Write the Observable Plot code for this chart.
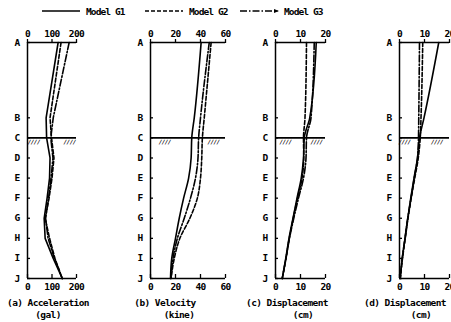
<!DOCTYPE html>
<html>
<head>
<meta charset="utf-8">
<script src="https://cdn.jsdelivr.net/npm/d3@7"></script>
<script src="https://cdn.jsdelivr.net/npm/@observablehq/plot@0.6"></script>
<style>
  html, body { margin: 0; padding: 0; background: #fff; }
  #root { position: relative; width: 451px; height: 322px; overflow: hidden; background: #fff;
          font-family: "DejaVu Sans Mono", monospace; color: #000; }
  .abs { position: absolute; }
  .cap { position: absolute; width: 140px; text-align: center; font-size: 9.5px; font-weight: bold; letter-spacing: -0.6px; line-height: 11px; white-space: nowrap; }
</style>
</head>
<body>
<div id="root"></div>
<script>
// ---------- data ----------
const levels = ["A", "B", "C", "D", "E", "F", "G", "H", "I", "J"];
const depths = [0, 3.75, 4.75, 5.75, 6.75, 7.75, 8.75, 9.75, 10.75, 11.75];
const groundLevel = "C";
const models = ["Model G1", "Model G2", "Model G3"];
const modelDash = [null, "4,2", "7,2,1.5,2"];

// (a) Acceleration (gal)
const accG1 = [125, 76, 78, 92, 90, 80, 68, 72, 105, 142];
const accG2 = [137, 92, 98, 108, 100, 88, 72, 90, 112, 142];
const accG3 = [170, 105, 95, 104, 96, 86, 74, 84, 110, 142];
// (b) Velocity (kine)
const velG1 = [40.5, 35, 33, 32.5, 30.5, 26.5, 23, 20, 17, 16];
const velG2 = [48.5, 43, 41.5, 41, 40, 37.5, 31.5, 23.5, 19, 16.5];
const velG3 = [47, 40, 38.5, 38, 36, 32, 27, 21.5, 18, 16.3];
// (c) Displacement (cm)
const dispcG1 = [16.3, 13.7, 11.5, 11.2, 10.3, 8.6, 7.0, 5.4, 4.1, 2.7];
const dispcG2 = [12.4, 11.8, 11.2, 11.3, 10.6, 8.8, 7.1, 5.5, 4.2, 2.7];
const dispcG3 = [15.5, 14.2, 12.4, 12.2, 11.2, 9.2, 7.3, 5.6, 4.2, 2.7];
// (d) Displacement (cm)
const dispdG1 = [15.7, 9.8, 8.0, 7.2, 5.8, 4.5, 3.3, 2.2, 1.1, 0.3];
const dispdG2 = [9.3, 8.6, 8.3, 7.5, 6.1, 4.7, 3.4, 2.3, 1.2, 0.3];
const dispdG3 = [8.0, 7.7, 7.6, 7.2, 5.9, 4.6, 3.3, 2.2, 1.1, 0.3];

const panelTitles = ["(a) Acceleration", "(b) Velocity", "(c) Displacement", "(d) Displacement"];
const panelUnits = ["(gal)", "(kine)", "(cm)", "(cm)"];
const xTicks = [[0, 100, 200], [0, 20, 40, 60], [0, 10, 20], [0, 10, 20]];
const xMax = [200, 60, 20, 20];
const panelSeries = [[accG1, accG2, accG3], [velG1, velG2, velG3], [dispcG1, dispcG2, dispcG3], [dispdG1, dispdG2, dispdG3]];
const hatchAt = [[0.13, 0.86], [0.19, 0.84], [0.2, 0.82], [0.1, 0.75]];

// ---------- layout ----------
const layout = [
  {left: 0,   marginLeft: 27, inner: 49, curve: "linear",  cap1: 48,  cap2: 48},
  {left: 120, marginLeft: 30, inner: 75, curve: "monotone-y", cap1: 165, cap2: 179},
  {left: 245, marginLeft: 30, inner: 50, curve: "monotone-y", cap1: 287, cap2: 303},
  {left: 369, marginLeft: 30, inner: 50, curve: "monotone-y", cap1: 405, cap2: 421}
];

const root = document.getElementById("root");
const font = {fontFamily: "DejaVu Sans Mono, monospace", fontSize: "9.5px", fontWeight: "bold", letterSpacing: "-0.6px", background: "transparent", color: "#000", overflow: "visible"};
const levelOf = new Map(depths.map((d, i) => [d, levels[i]]));
const groundDepth = depths[levels.indexOf(groundLevel)];

panelSeries.forEach((series, p) => {
  const L = layout[p];
  const marginRight = 8;
  const lineMarks = series.map((vals, si) =>
    Plot.line(vals.map((v, i) => ({value: v, depth: depths[i], model: models[si]})), {
      x: "value", y: "depth", curve: L.curve, stroke: "#000", strokeWidth: 1.6,
      strokeDasharray: modelDash[si] || undefined
    })
  );
  const chart = Plot.plot({
    width: L.marginLeft + L.inner + marginRight,
    height: 322,
    marginLeft: L.marginLeft, marginRight, marginTop: 42, marginBottom: 44,
    style: font,
    x: {domain: [0, xMax[p]], label: null},
    y: {domain: [depths[0], depths[depths.length - 1]], reverse: true, label: null},
    marks: [
      Plot.axisX({anchor: "top", ticks: xTicks[p], tickSize: 4, tickPadding: 2, label: null, tickFormat: d => d, strokeWidth: 1.3}),
      Plot.axisX({anchor: "bottom", ticks: xTicks[p], tickSize: -4, tickPadding: 9, label: null, tickFormat: d => d, strokeWidth: 1.3}),
      Plot.axisY({ticks: depths, tickSize: -3, tickPadding: 11, label: null, tickFormat: d => levelOf.get(d), strokeWidth: 1.3}),
      Plot.ruleX([0], {stroke: "#000", strokeWidth: 1.5}),
      Plot.ruleY([depths[0], depths[depths.length - 1]], {stroke: "#000", strokeWidth: 1.4}),
      Plot.ruleY([groundDepth], {stroke: "#000", strokeWidth: 1.6}),
      Plot.text(hatchAt[p].map(f => ({x: f * xMax[p]})), {
        x: "x", y: () => groundDepth, text: () => "////", dy: 4.5,
        fontSize: 6, fontWeight: "bold", letterSpacing: "-1.8px", fontStyle: "italic", fill: "#000"
      }),
      ...lineMarks
    ]
  });
  chart.classList.add("abs");
  chart.style.left = L.left + "px";
  chart.style.top = "0px";
  root.appendChild(chart);

  const c1 = document.createElement("div");
  c1.className = "cap"; c1.textContent = panelTitles[p];
  c1.style.left = (L.cap1 - 70) + "px"; c1.style.top = "297px";
  root.appendChild(c1);
  const c2 = document.createElement("div");
  c2.className = "cap"; c2.textContent = panelUnits[p];
  c2.style.left = (L.cap2 - 70) + "px"; c2.style.top = "309px";
  root.appendChild(c2);
});

// ---------- legend ----------
const legendX = [42, 145, 240];
const ns = "http://www.w3.org/2000/svg";
const leg = document.createElementNS(ns, "svg");
leg.setAttribute("width", 451); leg.setAttribute("height", 22);
leg.setAttribute("class", "abs");
leg.style.left = "0px"; leg.style.top = "0px";
models.forEach((m, i) => {
  const x0 = legendX[i];
  const ln = document.createElementNS(ns, "line");
  ln.setAttribute("x1", x0); ln.setAttribute("x2", x0 + 38);
  ln.setAttribute("y1", 11); ln.setAttribute("y2", 11);
  ln.setAttribute("stroke", "#000"); ln.setAttribute("stroke-width", 1.5);
  if (modelDash[i]) ln.setAttribute("stroke-dasharray", modelDash[i]);
  leg.appendChild(ln);
  if (i === 2) {
    const ar = document.createElementNS(ns, "path");
    ar.setAttribute("d", `M${x0 + 34},9 L${x0 + 39},11 L${x0 + 34},13 Z`);
    ar.setAttribute("fill", "#000");
    leg.appendChild(ar);
  }
  const t = document.createElementNS(ns, "text");
  t.setAttribute("x", x0 + 44); t.setAttribute("y", 14.5);
  t.setAttribute("font-family", "DejaVu Sans Mono, monospace");
  t.setAttribute("font-size", "9.5px");
  t.setAttribute("font-weight", "bold");
  t.setAttribute("letter-spacing", "-0.9px");
  t.textContent = m;
  leg.appendChild(t);
});
root.appendChild(leg);
</script>
</body>
</html>
